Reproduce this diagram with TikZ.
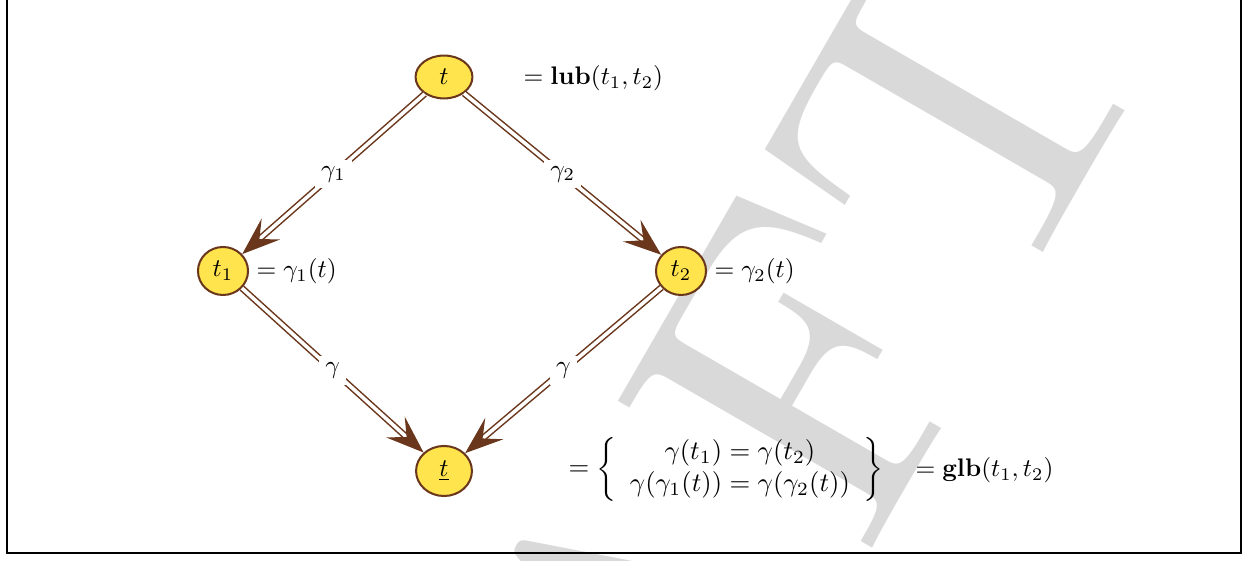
\documentclass[tikz,border=0pt]{standalone}
\usepackage[no-math]{fontspec}
\newfontfamily\wmfont{lmroman10-regular}[Extension=.otf]
\usetikzlibrary{arrows.meta,shapes.geometric}
\definecolor{nodeyellow}{RGB}{255,228,77}
\definecolor{brownline}{RGB}{107,55,28}
\definecolor{wmgray}{RGB}{217,217,217}
\begin{document}
\begin{tikzpicture}[x=0.3937pt,y=-0.3937pt,
  vnode/.style={ellipse,draw=brownline,fill=nodeyellow,line width=0.8pt,inner sep=0pt},
  garrow/.style={draw=brownline,double=white,double distance=1.4pt,line width=0.6pt,
    -{Stealth[length=15pt,width=11pt,inset=6pt]}},
  glabel/.style={fill=white,inner sep=2.5pt,midway},
  eqtext/.style={anchor=west,inner sep=0pt}]
\useasboundingbox (0,0) rectangle (1247,561);
% watermark
\begin{scope}
\clip (0,0) rectangle (1247,561);
\node[rotate=60,text=wmgray,font=\wmfont\fontsize{170}{200}\selectfont,inner sep=0pt] (wm) at (641,649) {DRAFT};
\end{scope}
% frame
\draw[line width=0.8pt] (7,-10) -- (7,553) -- (1241,553) -- (1241,-10);
% nodes
\node[vnode,minimum width=22.4pt,minimum height=16.9pt] (t) at (444,77) {$t$};
\node[vnode,minimum width=19.7pt,minimum height=18.9pt] (t1) at (223,271) {$t_1$};
\node[vnode,minimum width=19.7pt,minimum height=18.9pt] (t2) at (681,271) {$t_2$};
\node[vnode,minimum width=22pt,minimum height=19.7pt] (tb) at (444,471) {$\underline{t}$};
% edges
\draw[garrow] (t) -- (t1) node[glabel] (l1) {$\gamma_1$};
\draw[garrow] (t) -- (t2) node[glabel] (l2) {$\gamma_2$};
\draw[garrow] (t1) -- (tb) node[glabel] (l3) {$\gamma$};
\draw[garrow] (t2) -- (tb) node[glabel] (l4) {$\gamma$};
% equations
\node[eqtext] (eq0) at (523,78) {$=\mathbf{lub}(t_1,t_2)$};
\node[eqtext] (eq1) at (256,271) {$=\gamma_1(t)$};
\node[eqtext] (eq2) at (714,271) {$=\gamma_2(t)$};
\node[eqtext] (eq3) at (568,469) {\scalebox{1.05}{$=\left\{\begin{array}{c}\gamma(t_1)=\gamma(t_2)\\ \gamma(\gamma_1(t))=\gamma(\gamma_2(t))\end{array}\right\}$}};
\node[eqtext] (eq4) at (915,470) {$=\mathbf{glb}(t_1,t_2)$};
\end{tikzpicture}
\end{document}
